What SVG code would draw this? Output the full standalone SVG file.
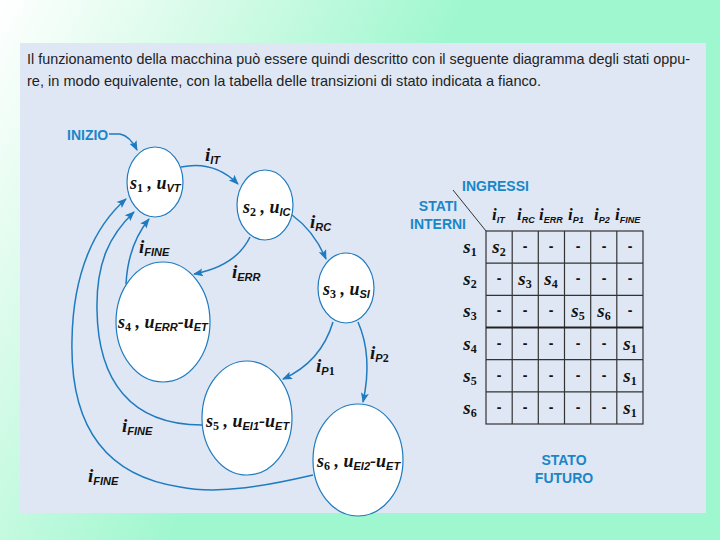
<svg xmlns="http://www.w3.org/2000/svg" width="720" height="540" viewBox="0 0 720 540">
<defs>
<linearGradient id="bg" gradientUnits="userSpaceOnUse" x1="0" y1="0" x2="360" y2="200">
<stop offset="0" stop-color="#ffffff"/>
<stop offset="0.45" stop-color="#d6fbe8"/>
<stop offset="1" stop-color="#9ff7cf"/>
</linearGradient>
<marker id="ah" viewBox="0 0 10 10" refX="9" refY="5" markerWidth="10" markerHeight="10" markerUnits="userSpaceOnUse" orient="auto">
<path d="M0,1 L10,5 L0,9 L2,5 Z" fill="#1f7bbf"/>
</marker>
<style>
.node ellipse{fill:#ffffff;stroke:#1f7bbf;stroke-width:1.2}
.edge{fill:none;stroke:#1f7bbf;stroke-width:1.5;marker-end:url(#ah)}
.lbl{font-family:"Liberation Serif",serif;font-weight:bold;font-style:italic;font-size:19px;fill:#111}
.nl{font-family:"Liberation Serif",serif;font-weight:bold;font-style:italic;font-size:18px;fill:#111}
.sub{font-family:"Liberation Sans",sans-serif;font-weight:bold;font-style:italic;font-size:11px}
.subn{font-family:"Liberation Serif",serif;font-weight:bold;font-size:12px;font-style:normal}
.hl{font-family:"Liberation Serif",serif;font-weight:bold;font-style:italic;font-size:17px;fill:#111}
.hs{font-family:"Liberation Sans",sans-serif;font-weight:bold;font-style:italic;font-size:9px}
.blue{font-family:"Liberation Sans",sans-serif;font-weight:bold;font-size:14px;fill:#1a86c8}
.body{font-family:"Liberation Sans",sans-serif;font-size:15px;fill:#222}
.grid{stroke:#333;stroke-width:1.2;fill:none}
.cell{font-family:"Liberation Serif",serif;font-weight:bold;font-style:italic;font-size:19px;fill:#111;text-anchor:middle}
.dash{font-family:"Liberation Sans",sans-serif;font-weight:bold;font-size:14px;fill:#111;text-anchor:middle}
</style>
</defs>
<rect x="0" y="0" width="720" height="540" fill="url(#bg)"/>
<rect x="20" y="43" width="686" height="470" fill="#dfe7f4"/>
<text class="body" x="27" y="64" textLength="663" lengthAdjust="spacingAndGlyphs">Il funzionamento della macchina può essere quindi descritto con il seguente diagramma degli stati oppu-</text>
<text class="body" x="27" y="86" textLength="514" lengthAdjust="spacingAndGlyphs">re, in modo equivalente, con la tabella delle transizioni di stato indicata a fianco.</text>

<g id="connectors">
<path class="edge" d="M109,134 L120,134 Q130,136 137,150"/>
<path class="edge" d="M181,167 Q214,160 238,184"/>
<path class="edge" d="M292,215 Q314,231 326,259"/>
<path class="edge" d="M250,237 Q236,266 194,274"/>
<path class="edge" d="M126,284 Q128,245 149,219"/>
<path class="edge" d="M202,425 C130,425 98,380 97,310 C96,262 110,235 134,212"/>
<path class="edge" d="M313,475 C270,485 220,495 180,487 C100,475 70,420 72,340 C73,272 95,226 126,199"/>
<path class="edge" d="M333,322 Q321,362 283,379"/>
<path class="edge" d="M358,322 Q373,356 363,402"/>
<text class="lbl" x="205" y="161">i<tspan class="sub" dy="3">IT</tspan></text>
<text class="lbl" x="310" y="228">i<tspan class="sub" dy="3">RC</tspan></text>
<text class="lbl" x="232" y="278">i<tspan class="sub" dy="3">ERR</tspan></text>
<text class="lbl" x="139" y="253">i<tspan class="sub" dy="3">FINE</tspan></text>
<text class="lbl" x="316" y="372">i<tspan class="sub" dy="3">P</tspan><tspan class="subn">1</tspan></text>
<text class="lbl" x="370" y="359">i<tspan class="sub" dy="3">P</tspan><tspan class="subn">2</tspan></text>
<text class="lbl" x="122" y="432">i<tspan class="sub" dy="3">FINE</tspan></text>
<text class="lbl" x="88" y="482">i<tspan class="sub" dy="3">FINE</tspan></text>
</g>

<text class="blue" x="67" y="140">INIZIO</text>

<g id="s1" class="node">
<ellipse cx="155" cy="182" rx="28" ry="35"/>
<text class="nl" x="130" y="189">s<tspan class="subn" dy="3">1</tspan><tspan dy="-3"> , u</tspan><tspan class="sub" dy="3">VT</tspan></text>
</g>
<g id="s2" class="node">
<ellipse cx="265" cy="205" rx="28" ry="35"/>
<text class="nl" x="243" y="213">s<tspan class="subn" dy="3">2</tspan><tspan dy="-3"> , u</tspan><tspan class="sub" dy="3">IC</tspan></text>
</g>
<g id="s3" class="node">
<ellipse cx="346" cy="288" rx="28" ry="35"/>
<text class="nl" x="323" y="295">s<tspan class="subn" dy="3">3</tspan><tspan dy="-3"> , u</tspan><tspan class="sub" dy="3">SI</tspan></text>
</g>
<g id="s4" class="node">
<ellipse cx="163" cy="322" rx="47" ry="60"/>
<text class="nl" x="118" y="328">s<tspan class="subn" dy="3">4</tspan><tspan dy="-3"> , u</tspan><tspan class="sub" dy="3">ERR</tspan><tspan dy="-3">-u</tspan><tspan class="sub" dy="3">ET</tspan></text>
</g>
<g id="s5" class="node">
<ellipse cx="247" cy="418" rx="45" ry="57"/>
<text class="nl" x="206" y="427">s<tspan class="subn" dy="3">5</tspan><tspan dy="-3"> , u</tspan><tspan class="sub" dy="3">EI1</tspan><tspan dy="-3">-u</tspan><tspan class="sub" dy="3">ET</tspan></text>
</g>
<g id="s6" class="node">
<ellipse cx="358" cy="460" rx="45" ry="56"/>
<text class="nl" x="317" y="467">s<tspan class="subn" dy="3">6</tspan><tspan dy="-3"> , u</tspan><tspan class="sub" dy="3">EI2</tspan><tspan dy="-3">-u</tspan><tspan class="sub" dy="3">ET</tspan></text>
</g>

<g id="table">
<text class="blue" x="462" y="191">INGRESSI</text>
<text class="blue" x="438" y="211" text-anchor="middle">STATI</text>
<text class="blue" x="438" y="229" text-anchor="middle">INTERNI</text>
<line x1="453" y1="190" x2="486" y2="231" stroke="#333" stroke-width="1"/>
<rect class="grid" x="486" y="231" width="157" height="193" stroke-width="1.5"/>
<path class="grid" d="M512.2,231V424M538.3,231V424M564.5,231V424M590.7,231V424M616.8,231V424M486,263.2H643M486,295.3H643M486,359.7H643M486,391.8H643"/>
<line x1="486" y1="327.5" x2="643" y2="327.5" stroke="#222" stroke-width="2.2"/>
<g class="hdr">
<text class="hl" x="492" y="220">i<tspan class="hs" dy="3">IT</tspan></text>
<text class="hl" x="517" y="220">i<tspan class="hs" dy="3">RC</tspan></text>
<text class="hl" x="539" y="220">i<tspan class="hs" dy="3">ERR</tspan></text>
<text class="hl" x="568" y="220">i<tspan class="hs" dy="3">P1</tspan></text>
<text class="hl" x="594" y="220">i<tspan class="hs" dy="3">P2</tspan></text>
<text class="hl" x="615" y="220">i<tspan class="hs" dy="3">FINE</tspan></text>
</g>
<g class="rows">
<text class="cell" x="470" y="253">s<tspan class="subn" dy="3">1</tspan></text>
<text class="cell" x="470" y="285">s<tspan class="subn" dy="3">2</tspan></text>
<text class="cell" x="470" y="317">s<tspan class="subn" dy="3">3</tspan></text>
<text class="cell" x="470" y="350">s<tspan class="subn" dy="3">4</tspan></text>
<text class="cell" x="470" y="382">s<tspan class="subn" dy="3">5</tspan></text>
<text class="cell" x="470" y="414">s<tspan class="subn" dy="3">6</tspan></text>
</g>
<g class="cells">
<text class="cell" x="499" y="253">s<tspan class="subn" dy="3">2</tspan></text>
<text class="dash" x="525" y="251">-</text><text class="dash" x="551" y="251">-</text><text class="dash" x="578" y="251">-</text><text class="dash" x="604" y="251">-</text><text class="dash" x="630" y="251">-</text>
<text class="dash" x="499" y="283">-</text>
<text class="cell" x="525" y="285">s<tspan class="subn" dy="3">3</tspan></text>
<text class="cell" x="551" y="285">s<tspan class="subn" dy="3">4</tspan></text>
<text class="dash" x="578" y="283">-</text><text class="dash" x="604" y="283">-</text><text class="dash" x="630" y="283">-</text>
<text class="dash" x="499" y="315">-</text><text class="dash" x="525" y="315">-</text><text class="dash" x="551" y="315">-</text>
<text class="cell" x="578" y="317">s<tspan class="subn" dy="3">5</tspan></text>
<text class="cell" x="604" y="317">s<tspan class="subn" dy="3">6</tspan></text>
<text class="dash" x="630" y="315">-</text>
<text class="dash" x="499" y="348">-</text><text class="dash" x="525" y="348">-</text><text class="dash" x="551" y="348">-</text><text class="dash" x="578" y="348">-</text><text class="dash" x="604" y="348">-</text>
<text class="cell" x="630" y="350">s<tspan class="subn" dy="3">1</tspan></text>
<text class="dash" x="499" y="380">-</text><text class="dash" x="525" y="380">-</text><text class="dash" x="551" y="380">-</text><text class="dash" x="578" y="380">-</text><text class="dash" x="604" y="380">-</text>
<text class="cell" x="630" y="382">s<tspan class="subn" dy="3">1</tspan></text>
<text class="dash" x="499" y="412">-</text><text class="dash" x="525" y="412">-</text><text class="dash" x="551" y="412">-</text><text class="dash" x="578" y="412">-</text><text class="dash" x="604" y="412">-</text>
<text class="cell" x="630" y="414">s<tspan class="subn" dy="3">1</tspan></text>
</g>
<text class="blue" x="564" y="465" text-anchor="middle">STATO</text>
<text class="blue" x="564" y="483" text-anchor="middle">FUTURO</text>
</g>
</svg>
